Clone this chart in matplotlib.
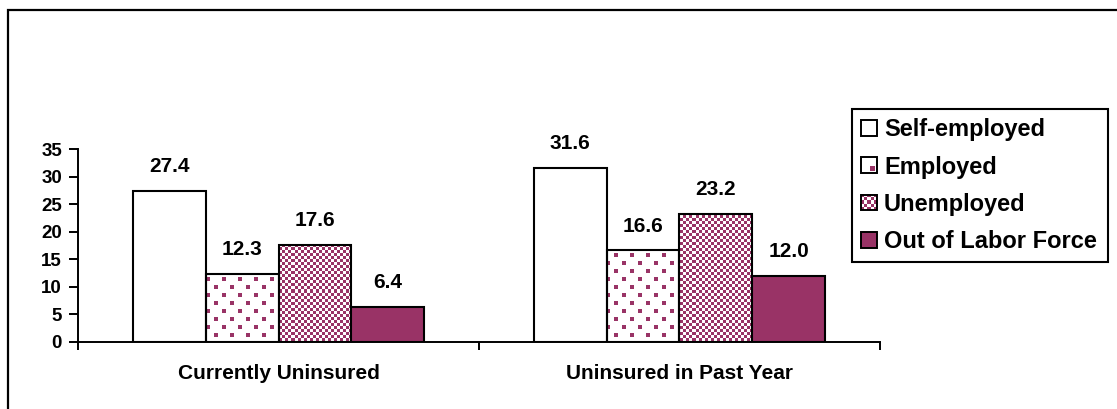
import numpy as np
import matplotlib
matplotlib.use('Agg')
import matplotlib.pyplot as plt
from matplotlib.patches import Rectangle
from matplotlib.legend_handler import HandlerBase
from matplotlib.image import BboxImage
from matplotlib.transforms import Bbox, TransformedBbox

plt.rcParams['font.family'] = ['Liberation Sans', 'DejaVu Sans']
plt.rcParams['font.weight'] = 'bold'

# data
categories = ['Currently Uninsured', 'Uninsured in Past Year']
series = ['Self-employed', 'Employed', 'Unemployed', 'Out of Labor Force']
self_employed = [27.4, 31.6]
employed = [12.3, 16.6]
unemployed = [17.6, 23.2]
out_of_labor = [6.4, 12.0]
yticks = [0, 5, 10, 15, 20, 25, 30, 35]

PURPLE = '#993366'
W, H = 1117, 409


def make_pattern(kind, h, w):
    """RGBA array (h x w) for one of the fill patterns"""
    rgba = np.zeros((h, w, 4))
    purple = np.array(matplotlib.colors.to_rgba(PURPLE))
    white = np.array([1.0, 1.0, 1.0, 1.0])
    r, c = np.mgrid[0:h, 0:w]
    if kind == 'white':
        rgba[:] = white
    elif kind == 'solid':
        rgba[:] = purple
    elif kind == 'dots':
        shift = 8 * ((r // 8) % 2)
        mask = ((r % 8) < 4) & (((c + shift) % 16) < 4)
        rgba[:] = white
        rgba[mask] = purple
    elif kind == 'checker':
        mask = ((r // 3) + (c // 3)) % 2 == 0
        rgba[:] = white
        rgba[mask] = purple
    return rgba


class HandlerPattern(HandlerBase):
    def __init__(self, kind):
        super().__init__()
        self.kind = kind

    def create_artists(self, legend, orig_handle, xdescent, ydescent,
                       width, height, fontsize, trans):
        x0, y0 = -xdescent, -ydescent
        bb = TransformedBbox(Bbox.from_bounds(x0, y0, width, height), trans)
        img = BboxImage(bb, interpolation='nearest')
        pat = make_pattern(self.kind, 15, 15)
        if self.kind == 'dots':
            # the legend swatch only catches one dot, bottom right
            pat = make_pattern('white', 15, 15)
            pat[8:13, 8:13] = matplotlib.colors.to_rgba(PURPLE)
        img.set_data(pat)
        edge = Rectangle((x0, y0), width, height, facecolor='none',
                         edgecolor='black', lw=1.4, transform=trans)
        return [img, edge]


fig = plt.figure(figsize=(W / 100, H / 100), dpi=100)
ax_left, ax_right, ax_bottom, ax_top = 78, 880, 342, 149
ax = fig.add_axes([ax_left / W, (H - ax_bottom) / H,
                   (ax_right - ax_left) / W, (ax_bottom - ax_top) / H])

# outer chart-area border (runs off the right and bottom edges)
fig.add_artist(Rectangle((8 / W, -0.2), 1.2, 1.2 - 10 / H,
                         transform=fig.transFigure, facecolor='none',
                         edgecolor='black', lw=1.6))

x = np.arange(len(categories)) + 0.5
bw = 0.182
values = [self_employed, employed, unemployed, out_of_labor]
kinds = ['white', 'dots', 'checker', 'solid']
pw = ax_right - ax_left
ph = ax_bottom - ax_top

containers = []
for i, (vals, kind) in enumerate(zip(values, kinds)):
    pos = x + (i - 1.5) * bw
    if kind == 'white':
        fc = 'white'
    elif kind == 'solid':
        fc = PURPLE
    else:
        fc = 'none'
    bars = ax.bar(pos, vals, width=bw, facecolor=fc, edgecolor='black',
                  lw=1.5, zorder=2)
    containers.append(bars)
    if kind in ('dots', 'checker'):
        pat = make_pattern(kind, ph, pw)
        for b in bars:
            im = ax.imshow(pat, extent=(0, 1, 0, 1), transform=ax.transAxes,
                           interpolation='nearest', aspect='auto', zorder=1)
            im.set_clip_path(b)
    for p, v in zip(pos, vals):
        ax.annotate(f'{v:.1f}', (p, v), xytext=(0, 13.5),
                    textcoords='offset points', ha='center', va='baseline',
                    fontsize=15, fontweight='bold')

ax.set_xlim(0, len(categories))
ax.set_ylim(0, 35)
ax.set_yticks(yticks)
ax.set_xticks(np.arange(len(categories) + 1))
ax.set_xticklabels([])
ax.set_xticks(x, categories, minor=True)

for s in ['top', 'right']:
    ax.spines[s].set_visible(False)
for s in ['left', 'bottom']:
    ax.spines[s].set_linewidth(1.4)

ax.tick_params(axis='y', direction='out', length=6.5, width=1.4, pad=5,
               labelsize=13.5)
ax.tick_params(axis='x', which='major', direction='out', length=6, width=1.4)
ax.tick_params(axis='x', which='minor', length=0, pad=16, labelsize=15)
for lab in ax.get_yticklabels() + ax.get_xticklabels(minor=True):
    lab.set_fontweight('bold')

# legend box (852,109)-(1108,259) in pixels
lx0, ly0, lx1 = 852, 109, 1108
leg = fig.legend(containers, series,
                 handler_map={c: HandlerPattern(k) for c, k in zip(containers, kinds)},
                 loc='upper left',
                 bbox_to_anchor=(lx0 / W, 0, (lx1 - lx0) / W, 1 - ly0 / H),
                 mode='expand', borderaxespad=0,
                 fancybox=False, framealpha=1, edgecolor='black',
                 prop={'size': 17, 'weight': 'bold'},
                 handlelength=0.65, handleheight=0.65, handletextpad=0.3,
                 labelspacing=0.6, borderpad=0.4)
leg.get_frame().set_linewidth(1.5)

fig.savefig('out.png', dpi=100)
